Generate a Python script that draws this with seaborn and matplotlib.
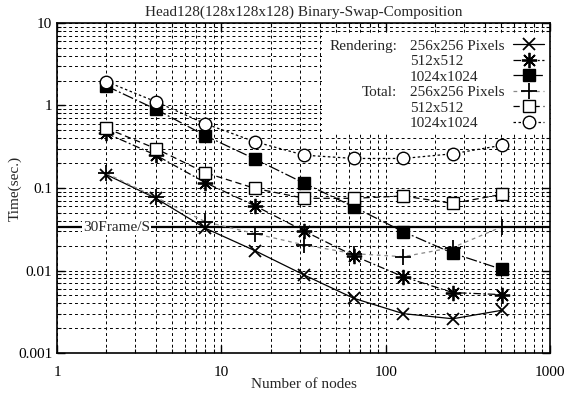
import numpy as np
import pandas as pd
import matplotlib
matplotlib.use("Agg")
import matplotlib.pyplot as plt
import seaborn as sns
from matplotlib.patches import Rectangle
from matplotlib.ticker import FixedLocator, FixedFormatter, LogLocator, NullFormatter

# ---- data ----
nodes = [2, 4, 8, 16, 32, 64, 128, 256, 512]
render_256 = [0.145, 0.075, 0.0325, 0.0174, 0.0088, 0.0046, 0.0030, 0.0026, 0.0033]
render_512 = [0.46, 0.25, 0.116, 0.061, 0.030, 0.0151, 0.0084, 0.0054, 0.0051]
render_1024 = [1.72, 0.90, 0.43, 0.225, 0.114, 0.059, 0.0295, 0.0162, 0.0103]
total_256 = [0.15, 0.077, 0.039, 0.028, 0.0204, 0.016, 0.0147, 0.019, 0.034]
total_512 = [0.53, 0.30, 0.153, 0.099, 0.075, 0.075, 0.080, 0.065, 0.084]
total_1024 = [1.95, 1.11, 0.60, 0.364, 0.25, 0.228, 0.228, 0.26, 0.33]

series_labels = ["256x256 Pixels", "512x512", "1024x1024",
                 "256x256 Pixels", "512x512", "1024x1024"]
group_labels = ["Rendering:", "Total:"]
frame_rate_line = 1.0 / 30.0
frame_rate_label = "30Frame/S"
x_ticks = [1, 10, 100, 1000]
x_tick_labels = ["1", "10", "100", "1000"]
y_ticks = [0.001, 0.01, 0.1, 1, 10]
y_tick_labels = ["0.001", "0.01", "0.1", "1", "10"]
title = "Head128(128x128x128) Binary-Swap-Composition"
xlabel = "Number of nodes"
ylabel = "Time(sec.)"

sns.set_style("ticks")
plt.rcParams["font.family"] = ["Liberation Serif", "DejaVu Serif"]

W, H = 578, 397
fig = plt.figure(figsize=(W / 100, H / 100), dpi=100)
ax = fig.add_axes([57 / W, 1 - 353 / H, (550 - 57) / W, (353 - 23) / H])

ax.set_xscale("log")
ax.set_yscale("log")
ax.set_xlim(1, 1000)
ax.set_ylim(0.001, 10)

styles = [
    dict(marker="x", linestyle="-", ms=9, mew=1.3, mfc="black", color="black"),
    dict(marker=(8, 2, 0), linestyle=(0, (6, 2, 1.5, 2)), ms=11, mew=1.3, mfc="black", color="black"),
    dict(marker="s", linestyle=(0, (9, 2, 1.5, 2)), ms=8, mew=1.0, mfc="black", color="black"),
    dict(marker="+", linestyle=(0, (3, 3)), ms=11, mew=1.3, mfc="black", color="#888888"),
    dict(marker="s", linestyle=(0, (5, 3)), ms=8.5, mew=1.0, mfc="white", color="black"),
    dict(marker="o", linestyle=(0, (2, 2)), ms=9, mew=1.0, mfc="white", color="black"),
]
all_series = [render_256, render_512, render_1024, total_256, total_512, total_1024]

handles = []
for vals, st in zip(all_series, styles):
    df = pd.DataFrame({"nodes": nodes, "time": vals})
    sns.lineplot(data=df, x="nodes", y="time", ax=ax, color=st["color"],
                 marker=st["marker"], linestyle=st["linestyle"], markersize=st["ms"],
                 markeredgewidth=st["mew"], markerfacecolor=st["mfc"],
                 markeredgecolor="black", linewidth=0.9, zorder=3, legend=False)
    handles.append(ax.lines[-1])

# grid
ax.set_axisbelow(True)
ax.grid(which="both", axis="both", color="black", linestyle=(0, (3, 3)), linewidth=0.7)

# ticks
ax.xaxis.set_major_locator(FixedLocator(x_ticks))
ax.xaxis.set_major_formatter(FixedFormatter(x_tick_labels))
ax.xaxis.set_minor_locator(LogLocator(base=10, subs=np.arange(2, 10)))
ax.xaxis.set_minor_formatter(NullFormatter())
ax.yaxis.set_major_locator(FixedLocator(y_ticks))
ax.yaxis.set_major_formatter(FixedFormatter(y_tick_labels))
ax.yaxis.set_minor_locator(LogLocator(base=10, subs=np.arange(2, 10)))
ax.yaxis.set_minor_formatter(NullFormatter())
ax.tick_params(which="both", direction="in", top=True, right=True, colors="black",
               labelsize=11)
ax.tick_params(which="major", length=6, width=1)
ax.tick_params(which="minor", length=3, width=0.8)
ax.tick_params(axis="x", pad=9)
for sp in ax.spines.values():
    sp.set_color("black")
    sp.set_linewidth(1.2)

# 30 frame line
ax.axhline(frame_rate_line, color="black", linewidth=1.6, zorder=2.5)
ax.text(2.3, frame_rate_line, frame_rate_label, ha="center", va="center", fontsize=11,
        zorder=4, bbox=dict(facecolor="white", edgecolor="none", pad=1))

# legend background
ax.add_patch(Rectangle((0.5375, 0.665), 1 - 0.5375, 0.305, transform=ax.transAxes,
                       facecolor="white", edgecolor="none", zorder=1))
leg = ax.legend(handles, [" "] * len(handles), loc="upper right",
                bbox_to_anchor=(1.0, 0.97), frameon=False, markerfirst=False,
                fontsize=11, handlelength=2.0, handletextpad=0.0, labelspacing=0.12,
                borderaxespad=0.2, borderpad=0.2)
leg.set_zorder(5)

fig.canvas.draw()
texts = leg.get_texts()
inv = fig.transFigure.inverted()
label_x = 410 / W
group_x = 397 / W
for i, lab in enumerate(series_labels):
    bb = texts[i].get_window_extent()
    _, yc = inv.transform((0, (bb.y0 + bb.y1) / 2))
    fig.text(label_x, yc, lab, ha="left", va="center", fontsize=11, zorder=6)
    if i in (0, 3):
        fig.text(group_x, yc, group_labels[0 if i == 0 else 1], ha="right",
                 va="center", fontsize=11, zorder=6)

ax.set_title(title, fontsize=11, pad=5)
ax.set_xlabel(xlabel, fontsize=11, labelpad=0)
ax.set_ylabel(ylabel, fontsize=11)
ax.yaxis.set_label_coords((22 - 57) / (550 - 57), 0.5)

fig.savefig("out.png", dpi=100)
